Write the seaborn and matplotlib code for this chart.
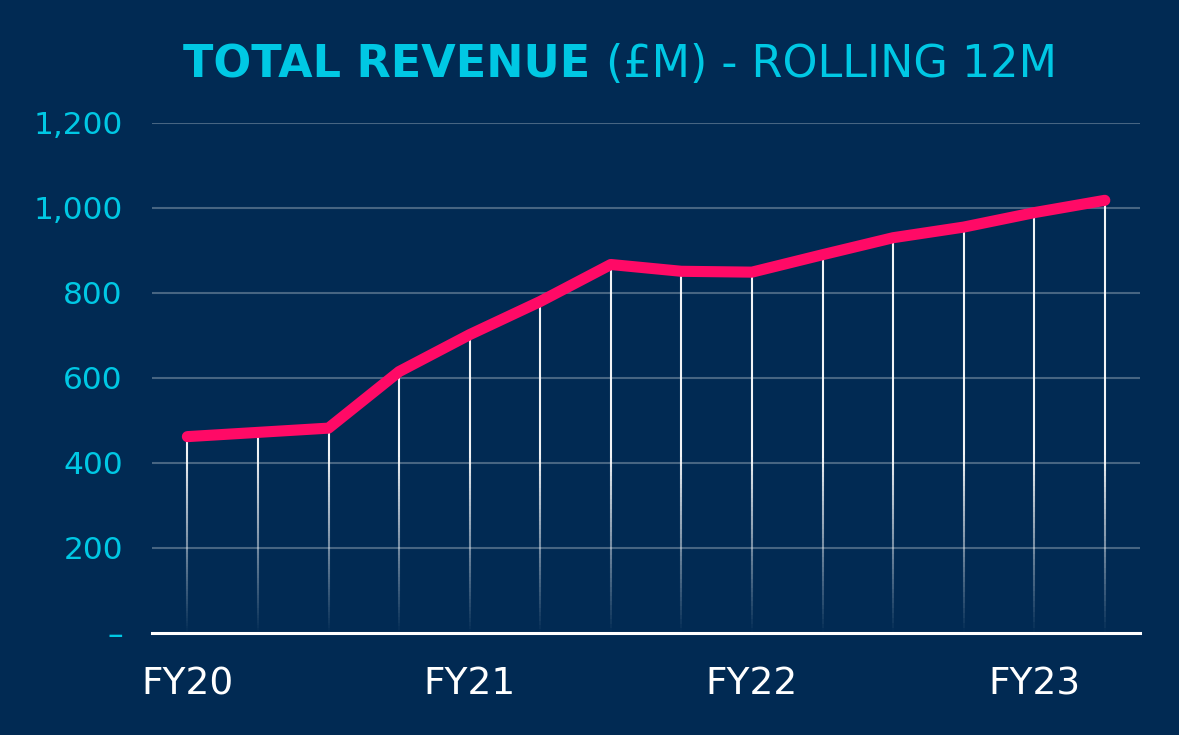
import matplotlib
matplotlib.use("Agg")
import matplotlib.pyplot as plt
import numpy as np
import seaborn as sns

# rolling 12m total revenue, one point per period
periods = list(range(14))
revenue = [462, 472, 482, 615, 702, 780, 867, 851, 849, 890, 930, 955, 989, 1018]
fy_ticks = [0, 4, 8, 12]
fy_labels = ["FY20", "FY21", "FY22", "FY23"]
y_ticks = [0, 200, 400, 600, 800, 1000, 1200]
y_labels = ["–", "200", "400", "600", "800", "1,000", "1,200"]

bg = "#012a53"
cyan = "#00c8e4"
pink = "#ff0a66"

sns.set_theme(style="white")
plt.rcParams["font.family"] = ["DejaVu Sans"]

fig = plt.figure(figsize=(11.79, 7.35), dpi=100, facecolor=bg)
ax = fig.add_axes([0.129, 0.1388, 0.838, 0.6939])
ax.set_facecolor(bg)

# grid lines
for t in y_ticks[1:]:
    ax.axhline(t, color="white", alpha=0.28, lw=1.5, zorder=1)

# vertical drop lines fading towards the bottom
n = 80
xs, y0s, y1s, cols = [], [], [], []
for x, v in zip(periods, revenue):
    edges = np.linspace(0, v, n + 1)
    for a, b in zip(edges[:-1], edges[1:]):
        mid = (a + b) / 2
        alpha = float(np.clip(mid / 420, 0, 1)) * 0.95
        xs.append(x)
        y0s.append(a)
        y1s.append(b)
        cols.append((1, 1, 1, alpha))
ax.vlines(xs, y0s, y1s, colors=cols, lw=1.5, zorder=2)

sns.lineplot(x=periods, y=revenue, ax=ax, color=pink, lw=8,
             solid_capstyle="round", solid_joinstyle="round", zorder=4)

ax.set_xlim(-0.5, 13.5)
ax.set_ylim(0, 1200)
ax.set_xticks(fy_ticks)
ax.set_xticklabels(fy_labels, color="white", fontsize=27)
ax.set_yticks(y_ticks)
ax.set_yticklabels(y_labels, color=cyan, fontsize=22.5)
ax.tick_params(axis="x", length=0, pad=24)
ax.tick_params(axis="y", length=0, pad=21)
ax.set_xlabel("")
ax.set_ylabel("")

for s in ["top", "right", "left"]:
    ax.spines[s].set_visible(False)
ax.spines["bottom"].set_color("white")
ax.spines["bottom"].set_linewidth(2.2)
ax.spines["bottom"].set_zorder(5)

# title: bold part + regular part placed side by side
fig.canvas.draw()
r = fig.canvas.get_renderer()
t1 = fig.text(0, 0.912, "TOTAL REVENUE ", color=cyan, fontsize=32,
              fontweight="bold", va="center", ha="left")
t2 = fig.text(0, 0.912, "(£M) - ROLLING 12M", color=cyan, fontsize=32,
              va="center", ha="left")
w1 = t1.get_window_extent(r).width
w2 = t2.get_window_extent(r).width
W = fig.get_figwidth() * fig.dpi
start = (620 - (w1 + w2) / 2) / W
t1.set_x(start)
t2.set_x(start + w1 / W)

fig.savefig("out.png", dpi=100, facecolor=bg)
